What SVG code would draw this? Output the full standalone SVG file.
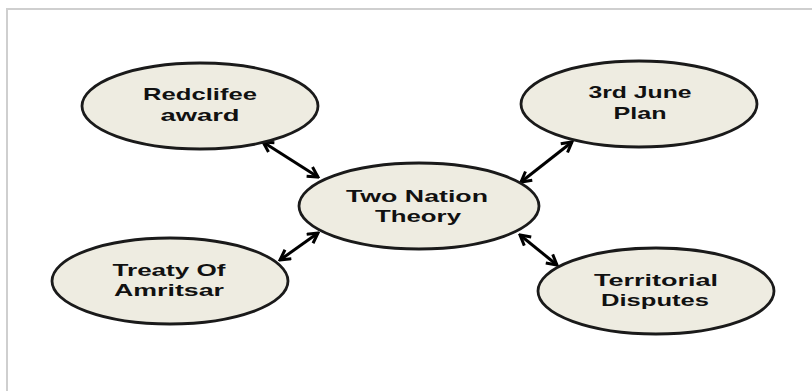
<svg xmlns="http://www.w3.org/2000/svg" width="812" height="391" viewBox="0 0 812 391">
<style>
.node ellipse{fill:#eeece1;stroke:#1a1a1a;stroke-width:2.8}
.node text{font-family:"Liberation Sans",Arial,sans-serif;font-weight:bold;font-size:17px;fill:#111;text-anchor:middle}
.conn line{stroke:#000;stroke-width:3}
</style>
<defs>
<marker id="ah" viewBox="0 0 14 14" refX="12" refY="7" markerWidth="14" markerHeight="14" markerUnits="userSpaceOnUse" orient="auto-start-reverse">
<path d="M2,1.5 L12,7 L2,12.5" fill="none" stroke="#000" stroke-width="3"/>
</marker>
</defs>
<rect x="7" y="9" width="830" height="420" fill="#fff" stroke="#cfcfcf" stroke-width="2"/>
<g class="conn">
<line x1="263" y1="142" x2="318" y2="177" marker-start="url(#ah)" marker-end="url(#ah)"/>
<line x1="572" y1="142" x2="521" y2="182" marker-start="url(#ah)" marker-end="url(#ah)"/>
<line x1="280" y1="260" x2="318" y2="233" marker-start="url(#ah)" marker-end="url(#ah)"/>
<line x1="520" y1="235" x2="557" y2="265" marker-start="url(#ah)" marker-end="url(#ah)"/>
</g>
<g id="redclifee" class="node">
<ellipse cx="200" cy="106" rx="118" ry="43"/>
<text x="200" y="100" textLength="114" lengthAdjust="spacingAndGlyphs">Redclifee</text>
<text x="200" y="121" textLength="79" lengthAdjust="spacingAndGlyphs">award</text>
</g>
<g id="june" class="node">
<ellipse cx="639" cy="104" rx="118" ry="43"/>
<text x="640" y="98" textLength="103" lengthAdjust="spacingAndGlyphs">3rd June</text>
<text x="640" y="119" textLength="53" lengthAdjust="spacingAndGlyphs">Plan</text>
</g>
<g id="twonation" class="node">
<ellipse cx="419" cy="206" rx="120" ry="43"/>
<text x="417" y="202" textLength="142" lengthAdjust="spacingAndGlyphs">Two Nation</text>
<text x="418" y="222" textLength="86" lengthAdjust="spacingAndGlyphs">Theory</text>
</g>
<g id="treaty" class="node">
<ellipse cx="170" cy="281" rx="118" ry="43"/>
<text x="169" y="276" textLength="113" lengthAdjust="spacingAndGlyphs">Treaty Of</text>
<text x="169" y="296" textLength="110" lengthAdjust="spacingAndGlyphs">Amritsar</text>
</g>
<g id="territorial" class="node">
<ellipse cx="656" cy="291" rx="118" ry="43"/>
<text x="656" y="286" textLength="124" lengthAdjust="spacingAndGlyphs">Territorial</text>
<text x="655" y="306" textLength="108" lengthAdjust="spacingAndGlyphs">Disputes</text>
</g>
</svg>
